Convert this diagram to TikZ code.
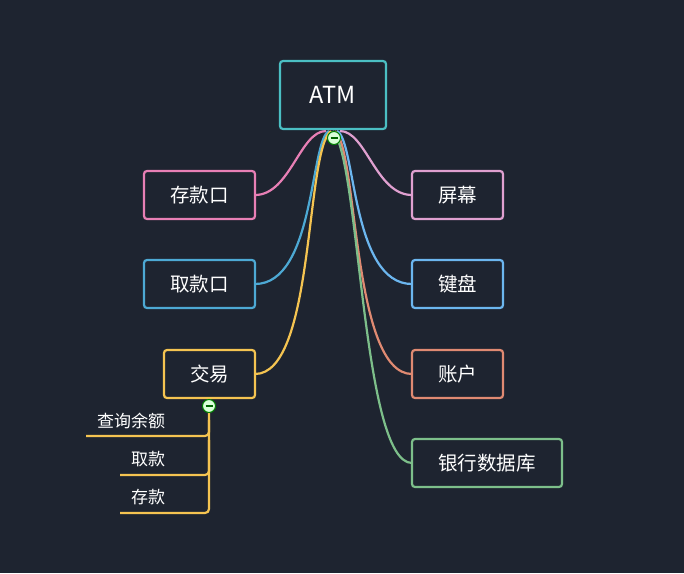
\documentclass[tikz,border=0pt]{standalone}
\usepackage{fontspec}
\setmainfont{Noto Sans CJK SC}
\begin{document}
\begin{tikzpicture}[x=1pt,y=-1pt,line width=2.2pt,
  box/.style={draw,rounded corners=3pt,fill=bgc,text=white,font=\fontsize{19.5}{22}\selectfont,minimum height=48pt,inner sep=0pt},
  br/.style={line width=2.2pt},
  sub/.style={text=white,font=\fontsize{17}{20}\selectfont}]
\definecolor{bgc}{HTML}{1E2430}
\definecolor{cteal}{HTML}{4BBFC3}
\definecolor{cpink}{HTML}{E87FB5}
\definecolor{cblue}{HTML}{4DA9D4}
\definecolor{cyel}{HTML}{F5C451}
\definecolor{clpink}{HTML}{E0A0D0}
\definecolor{clblue}{HTML}{6CB6EF}
\definecolor{csal}{HTML}{E08A72}
\definecolor{cgreen}{HTML}{7DBF8A}
\fill[bgc] (0,0) rectangle (684,573);
\useasboundingbox (0,0) rectangle (684,573);
\draw[br,cpink] (326,131) .. controls (300,131) and (290,195) .. (255,195);
\draw[br,cblue] (329,131) .. controls (310,140) and (315,284) .. (255,284);
\draw[br,cyel] (331,131) .. controls (305,150) and (315,374) .. (255,374);
\draw[br,clpink] (340,131) .. controls (366,131) and (376,195) .. (412,195);
\draw[br,clblue] (337,131) .. controls (356,140) and (351,284) .. (412,284);
\draw[br,csal] (335,131) .. controls (358,150) and (352,374) .. (412,374);
\draw[br,cgreen] (333,131) .. controls (360,160) and (362,463) .. (412,463);
\node[box,draw=cteal,minimum width=106pt,minimum height=68pt,font=\fontsize{23.5}{26}\selectfont] (atm) at (333,95) {ATM};
\node[box,draw=cpink,minimum width=111pt] (ck) at (199.5,195) {存款口};
\node[box,draw=cblue,minimum width=111pt] (qk) at (199.5,284) {取款口};
\node[box,draw=cyel,minimum width=91pt] (jy) at (209.5,374) {交易};
\node[box,draw=clpink,minimum width=91pt] (pm) at (457.5,195) {屏幕};
\node[box,draw=clblue,minimum width=91pt] (jp) at (457.5,284) {键盘};
\node[box,draw=csal,minimum width=91pt] (zh) at (457.5,374) {账户};
\node[box,draw=cgreen,minimum width=150pt] (yh) at (487,463) {银行数据库};
\draw[cyel,rounded corners=4pt] (209,406) -- (209,513) -- (120,513);
\draw[cyel,rounded corners=4pt] (209,420) -- (209,436) -- (86,436);
\draw[cyel,rounded corners=4pt] (209,440) -- (209,475) -- (120,475);
\node[sub] (s1) at (131,421) {查询余额};
\node[sub] (s2) at (148,459) {取款};
\node[sub] (s3) at (148,497) {存款};
\foreach \p/\n in {{(334,138)}/c1,{(209,406)}/c2}{
  \node[circle,draw=green!50!black,line width=1pt,fill=green!15!white,minimum size=13pt,inner sep=0pt] (\n) at \p {};
  \draw[green!40!black,line width=1.5pt] ([xshift=-3.5pt]\n.center) -- ([xshift=3.5pt]\n.center);
}
\end{tikzpicture}
\end{document}
